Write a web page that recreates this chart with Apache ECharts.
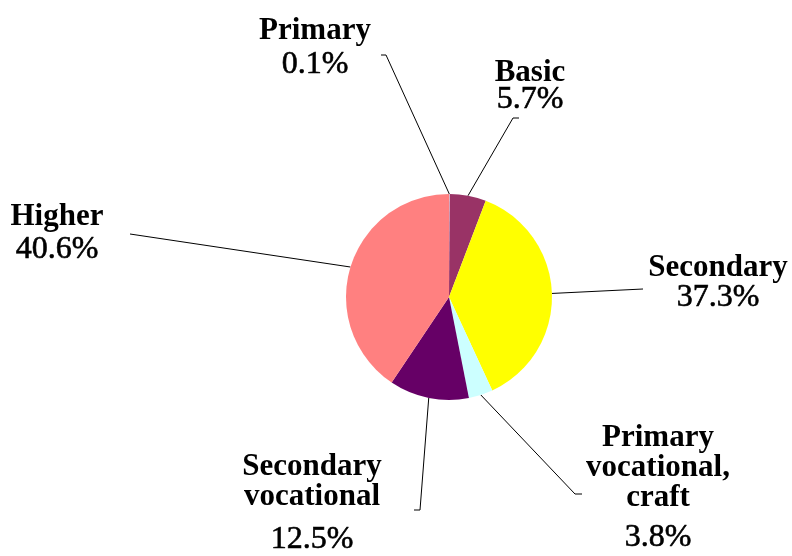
<!DOCTYPE html>
<html>
<head>
<meta charset="utf-8">
<script src="https://cdn.jsdelivr.net/npm/echarts@6/dist/echarts.min.js"></script>
<style>
    html, body { margin: 0; padding: 0; background: #fff; }
    #chart { width: 792px; height: 556px; }
</style>
</head>
<body>
<div id="chart"></div>
<script>
// data, clockwise from 12 o'clock
const categories = [ 'Primary', 'Basic', 'Secondary', 'Primary vocational, craft', 'Secondary vocational', 'Higher' ];
const shares = [ 0.1, 5.7, 37.3, 3.8, 12.5, 40.6 ];
// how each name is broken over lines in the label
const labelLines = [
    [ 'Primary' ],
    [ 'Basic' ],
    [ 'Secondary' ],
    [ 'Primary', 'vocational,', 'craft' ],
    [ 'Secondary', 'vocational' ],
    [ 'Higher' ]
];
const colors = [ '#FFFFFF', '#993366', '#FFFF00', '#CCFFFF', '#660066', '#FF8080' ];

// label placement: block centre, leader elbow and end, line height of the % row
const labelPos = [ [ 315, 50 ], [ 530, 85 ], [ 718, 283 ], [ 658, 493 ], [ 312, 510 ], [ 57, 235 ] ];
const lineElbow = [ [ 386, 55 ], [ 513, 118 ], [ 643, 289 ], [ 575, 494 ], [ 420, 510 ], [ 130, 234 ] ];
const lineEnd = [ [ 381, 55 ], [ 519, 118 ], [ 643, 289 ], [ 582, 494 ], [ 414, 510 ], [ 130, 234 ] ];
const pctLineHeight = [ 38, 24, 30, 50, 56, 36 ];

const fontFamily = '"Liberation Serif", "Times New Roman", serif';

let rich = {
    n: {
        fontFamily,
        fontSize: 31,
        fontWeight: 'bold',
        color: '#000',
        lineHeight: 30,
        align: 'center'
    }
};
// percentages are a little heavier than plain regular in the original
pctLineHeight.forEach( ( h, i ) => {
    rich[ 'p' + i ] = {
        fontFamily,
        fontSize: 32,
        color: '#000',
        textBorderColor: '#000',
        textBorderWidth: 0.6,
        lineHeight: h,
        align: 'center'
    }
} );

const chart = echarts.init( document.getElementById( 'chart' ) );
chart.setOption( {
    animation: false,
    series: [ {
        type: 'pie',
        center: [ 449, 297 ],
        radius: 103,
        startAngle: 90,
        clockwise: true,
        avoidLabelOverlap: false,
        data: categories.map( ( name, i ) => ( {
            name,
            value: shares[ i ],
            itemStyle: { color: colors[ i ] }
        } ) ),
        itemStyle: { borderWidth: 0 },
        emphasis: { disabled: true },
        label: {
            show: true,
            position: 'outside',
            formatter: p => labelLines[ p.dataIndex ].map( s => '{n|' + s + '}' ).join( '\n' ) +
                '\n{p' + p.dataIndex + '|' + shares[ p.dataIndex ].toFixed( 1 ) + '%}',
            rich
        },
        labelLine: {
            show: true,
            length: 10,
            length2: 10,
            lineStyle: { color: '#000', width: 1 }
        },
        labelLayout: params => {
            const i = params.dataIndex;
            const pts = params.labelLinePoints;
            return {
                x: labelPos[ i ][ 0 ],
                y: labelPos[ i ][ 1 ],
                align: 'center',
                verticalAlign: 'middle',
                labelLinePoints: [ pts[ 0 ], lineElbow[ i ], lineEnd[ i ] ]
            };
        }
    } ]
} );
</script>
</body>
</html>
